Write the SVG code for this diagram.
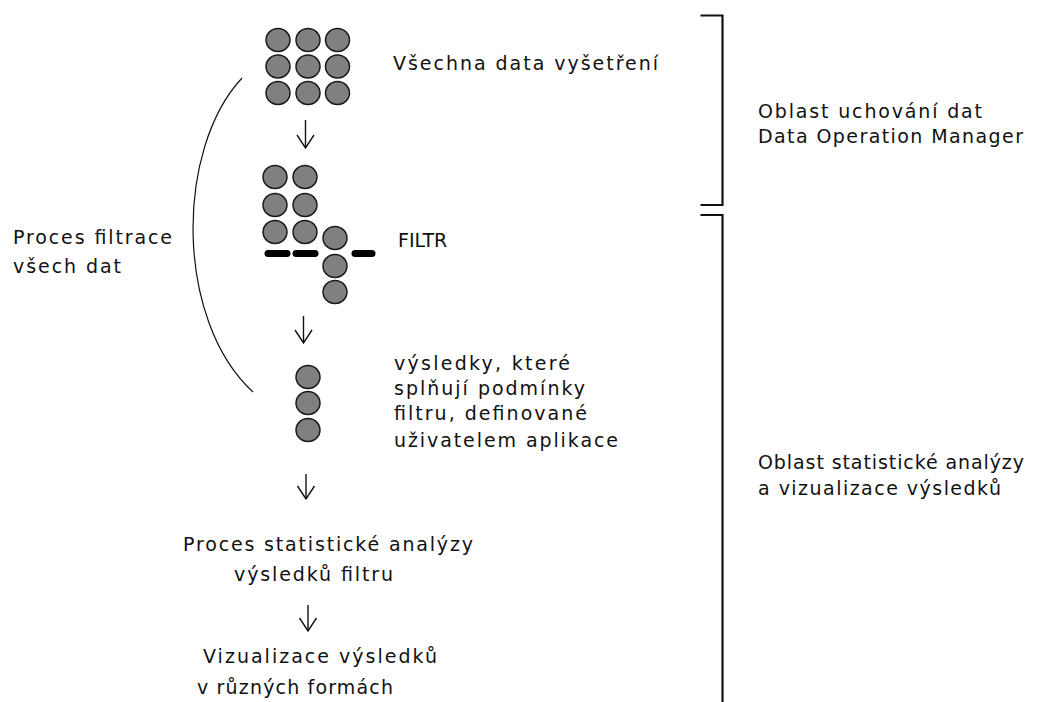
<svg xmlns="http://www.w3.org/2000/svg" width="1047" height="702" viewBox="0 0 1047 702">
  <defs>
    <style>
      .t { font-family: "DejaVu Sans", Verdana, sans-serif; font-size: 19px; fill: #111; }
      .dot { fill: #808080; stroke: #1a1a1a; stroke-width: 1.5; }
      .bar { stroke: #000; stroke-width: 7; stroke-linecap: round; }
      .flow { fill: none; stroke: #111; stroke-width: 1.4; marker-end: url(#vee); }
      .arc { fill: none; stroke: #111; stroke-width: 1.2; }
      .brace { fill: none; stroke: #111; stroke-width: 2.2; }
    </style>
    <marker id="vee" markerUnits="userSpaceOnUse" viewBox="-16 -10 18 20" refX="0" refY="0" markerWidth="18" markerHeight="20" orient="auto">
      <path d="M-13,-8.5 L0,0 L-13,8.5" fill="none" stroke="#111" stroke-width="1.4"/>
    </marker>
  </defs>
  <rect width="1047" height="702" fill="#fff"/>

  <!-- all records: 3x3 grid -->
  <g id="all-data">
    <ellipse class="dot" cx="278" cy="40" rx="12" ry="11.5"/>
    <ellipse class="dot" cx="308" cy="40" rx="12" ry="11.5"/>
    <ellipse class="dot" cx="337.5" cy="40" rx="12" ry="11.5"/>
    <ellipse class="dot" cx="278" cy="66.5" rx="12" ry="11.5"/>
    <ellipse class="dot" cx="308" cy="66.5" rx="12" ry="11.5"/>
    <ellipse class="dot" cx="337.5" cy="66.5" rx="12" ry="11.5"/>
    <ellipse class="dot" cx="278" cy="93" rx="12" ry="11.5"/>
    <ellipse class="dot" cx="308" cy="93" rx="12" ry="11.5"/>
    <ellipse class="dot" cx="337.5" cy="93" rx="12" ry="11.5"/>
    <text class="t" x="393" y="70" textLength="265" lengthAdjust="spacing">Všechna data vyšetření</text>
  </g>

  <!-- filter stage -->
  <g id="filter">
    <ellipse class="dot" cx="275" cy="177" rx="12" ry="11.5"/>
    <ellipse class="dot" cx="305" cy="177" rx="12" ry="11.5"/>
    <ellipse class="dot" cx="275" cy="205" rx="12" ry="11.5"/>
    <ellipse class="dot" cx="305" cy="205" rx="12" ry="11.5"/>
    <ellipse class="dot" cx="275" cy="232" rx="12" ry="11.5"/>
    <ellipse class="dot" cx="305" cy="232" rx="12" ry="11.5"/>
    <ellipse class="dot" cx="335" cy="238" rx="12" ry="11.5"/>
    <ellipse class="dot" cx="335" cy="266" rx="12" ry="11.5"/>
    <ellipse class="dot" cx="335" cy="292" rx="12" ry="11.5"/>
    <line class="bar" x1="268" y1="253.5" x2="287" y2="253.5"/>
    <line class="bar" x1="296" y1="253.5" x2="315" y2="253.5"/>
    <line class="bar" x1="355" y1="253.5" x2="372" y2="253.5"/>
    <text class="t" x="398" y="247">FILTR</text>
  </g>

  <!-- filtered results -->
  <g id="results">
    <ellipse class="dot" cx="308" cy="377" rx="12" ry="11.5"/>
    <ellipse class="dot" cx="308" cy="403" rx="12" ry="11.5"/>
    <ellipse class="dot" cx="308" cy="430" rx="12" ry="11.5"/>
    <text class="t" x="394" y="370" textLength="176" lengthAdjust="spacing">výsledky, které</text>
    <text class="t" x="394" y="395" textLength="191" lengthAdjust="spacing">splňují podmínky</text>
    <text class="t" x="394" y="420" textLength="193" lengthAdjust="spacing">filtru, definované</text>
    <text class="t" x="394" y="447" textLength="224" lengthAdjust="spacing">uživatelem aplikace</text>
  </g>

  <g id="filtering-label">
    <text class="t" x="13" y="244" textLength="159" lengthAdjust="spacing">Proces filtrace</text>
    <text class="t" x="13" y="273" textLength="108" lengthAdjust="spacing">všech dat</text>
  </g>

  <g id="analysis">
    <text class="t" x="183" y="551" textLength="290" lengthAdjust="spacing">Proces statistické analýzy</text>
    <text class="t" x="234" y="581" textLength="159" lengthAdjust="spacing">výsledků filtru</text>
  </g>

  <g id="visualisation">
    <text class="t" x="203" y="663" textLength="234" lengthAdjust="spacing">Vizualizace výsledků</text>
    <text class="t" x="197" y="694" textLength="196" lengthAdjust="spacing">v různých formách</text>
  </g>

  <g id="storage-area">
    <text class="t" x="758" y="118" textLength="224" lengthAdjust="spacing">Oblast uchování dat</text>
    <text class="t" x="758" y="143" textLength="265" lengthAdjust="spacing">Data Operation Manager</text>
  </g>

  <g id="analysis-area">
    <text class="t" x="758" y="469" textLength="266" lengthAdjust="spacing">Oblast statistické analýzy</text>
    <text class="t" x="758" y="495" textLength="243" lengthAdjust="spacing">a vizualizace výsledků</text>
  </g>

  <!-- connectors, arc and area brackets -->
  <g id="connectors">
    <line class="flow" x1="305.5" y1="120" x2="305.5" y2="148"/>
    <line class="flow" x1="303.5" y1="316" x2="303.5" y2="343"/>
    <line class="flow" x1="306" y1="474" x2="306" y2="499"/>
    <line class="flow" x1="308" y1="605" x2="308" y2="631"/>
    <path class="arc" d="M242,78 C175,150 175,320 253,392"/>
    <path class="brace" d="M700.5,15.5 H722.5 V205 H700.5"/>
    <path class="brace" d="M700.5,215 H722.5 V702"/>
  </g>
</svg>
